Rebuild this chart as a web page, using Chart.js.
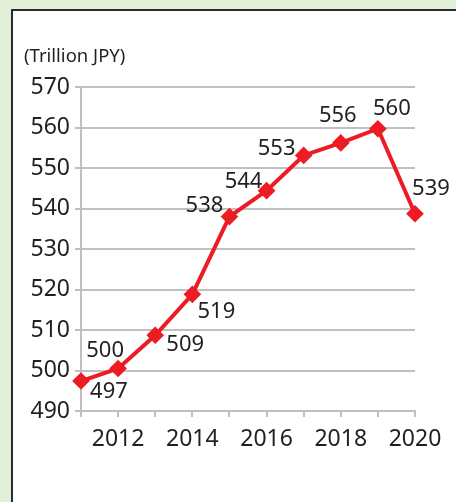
<!DOCTYPE html>
<html>
<head>
<meta charset="utf-8">
<script src="https://cdn.jsdelivr.net/npm/chart.js"></script>
<style>
  html, body { margin: 0; padding: 0; }
  body { width: 456px; height: 502px; background: #e2efd9; position: relative; overflow: hidden; }
  #panel { position: absolute; left: 11px; top: 9px; width: 460px; height: 510px; background: #fff;
           border-left: 2px solid #2b2b2b; border-top: 2px solid #2b2b2b; }
  #wrap { position: absolute; left: 0; top: 0; width: 456px; height: 502px; }
</style>
</head>
<body>
<div id="panel"></div>
<div id="wrap"><canvas id="gdp"></canvas></div>
<script>
// ===== データ =====
const years = [2011, 2012, 2013, 2014, 2015, 2016, 2017, 2018, 2019, 2020];
const gdpValues = [497.4, 500.5, 508.7, 518.8, 538.0, 544.4, 553.1, 556.2, 559.7, 538.7];
const valueLabels = ['497', '500', '509', '519', '538', '544', '553', '556', '560', '539'];
const yTicks = [490, 500, 510, 520, 530, 540, 550, 560, 570];
const unitLabel = '(Trillion JPY)';

// ラベルの置き場所（点からのずれ, px）
const labelOffsets = [[28, 11], [-13, -18], [30, 9], [24, 17], [-25, -11],
                      [-23, -9], [-27, -7], [-3, -27], [14, -20], [16, -25]];

const FONT = '"Noto Sans", sans-serif';
const TEXT = '#231f20';
const GRID = '#c0c0c0';
const RED = '#ed1c24';

// データラベルと単位を描くプラグイン
const labelPlugin = {
    id: 'valueLabels',
    afterDatasetsDraw(chart) {
        const ctx = chart.ctx;
        const meta = chart.getDatasetMeta(0);
        ctx.save();
        ctx.fillStyle = TEXT;
        ctx.font = '22px ' + FONT;
        ctx.textAlign = 'center';
        ctx.textBaseline = 'middle';
        meta.data.forEach((pt, i) => {
            const off = labelOffsets[i] || [0, -18];
            ctx.fillText(valueLabels[i], pt.x + off[0], pt.y + off[1]);
        });
        ctx.font = '18.5px ' + FONT;
        ctx.textAlign = 'left';
        ctx.fillText(unitLabel, 24, 57);
        ctx.restore();
    }
};

new Chart(document.getElementById('gdp'), {
    type: 'line',
    data: {
        datasets: [{
            data: years.map((y, i) => ({ x: y, y: gdpValues[i] })),
            borderColor: RED,
            backgroundColor: RED,
            borderWidth: 4,
            pointStyle: 'rectRot',
            pointRadius: 6,
            pointHoverRadius: 6,
            tension: 0,
            clip: false
        }]
    },
    options: {
        responsive: true,
        maintainAspectRatio: false,
        animation: false,
        layout: { padding: { left: 0, right: 41, top: 87, bottom: 0 } },
        plugins: { legend: { display: false }, tooltip: { enabled: false }, title: { display: false } },
        scales: {
            x: {
                type: 'linear',
                min: 2011,
                max: 2020,
                afterBuildTicks(axis) { axis.ticks = years.map(v => ({ value: v })); },
                afterFit(axis) { axis.height = 91; },
                ticks: {
                    color: TEXT,
                    font: { family: FONT, size: 23 },
                    padding: 9,
                    maxRotation: 0,
                    autoSkip: false,
                    callback: (v) => (v % 2 === 0 ? String(v) : '')
                },
                grid: { drawOnChartArea: false, drawTicks: true, tickLength: 6, color: GRID, lineWidth: 2 },
                border: { display: true, color: GRID, width: 2 }
            },
            y: {
                min: 490,
                max: 570,
                afterBuildTicks(axis) { axis.ticks = yTicks.map(v => ({ value: v })); },
                afterFit(axis) { axis.width = 81; },
                ticks: {
                    color: TEXT,
                    font: { family: FONT, size: 23 },
                    padding: 5
                },
                grid: { color: GRID, lineWidth: 2, tickLength: 6 },
                border: { display: true, color: GRID, width: 2 }
            }
        }
    },
    plugins: [labelPlugin]
});
</script>
</body>
</html>
